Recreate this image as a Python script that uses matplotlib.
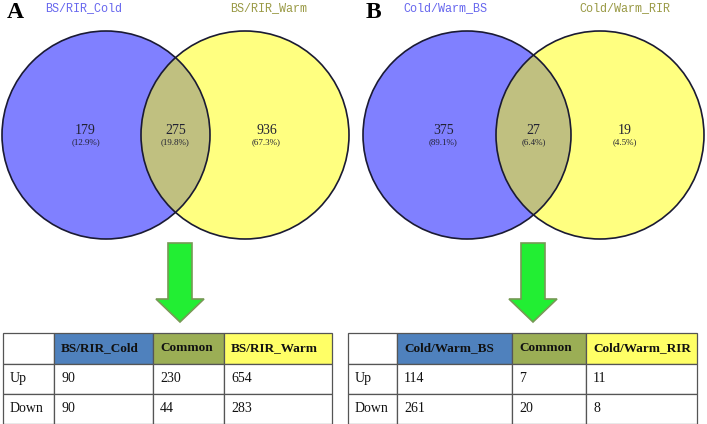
import matplotlib
matplotlib.use("Agg")
import matplotlib.pyplot as plt
from matplotlib.patches import Circle, Rectangle, Polygon

# ---------------- data ----------------
panel_letters = ["A", "B"]
set_names_A = ["BS/RIR_Cold", "BS/RIR_Warm"]
set_names_B = ["Cold/Warm_BS", "Cold/Warm_RIR"]
counts_A = [179, 275, 936]
pcts_A = ["12.9%", "19.8%", "67.3%"]
counts_B = [375, 27, 19]
pcts_B = ["89.1%", "6.4%", "4.5%"]

row_labels = ["Up", "Down"]
common_label = "Common"
up_A = [90, 230, 654]
down_A = [90, 44, 283]
up_B = [114, 7, 11]
down_B = [261, 20, 8]

# ---------------- layout ----------------
W, H = 707, 424
fig = plt.figure(figsize=(W / 100, H / 100), dpi=100)
ax = fig.add_axes([0, 0, 1, 1])
ax.set_xlim(0, W)
ax.set_ylim(H, 0)
ax.axis("off")

BLUE = "#8080ff"
YELLOW = "#ffff80"
OVER = "#c0c080"
EDGE = "#1a1a33"

venn_font = "Liberation Mono"
num_font = "Liberation Serif"


def venn(cx1, cx2, cy, r, names, counts, pcts, letter, letter_x, name_x):
    c1 = Circle((cx1, cy), r, facecolor=BLUE, edgecolor="none", zorder=1)
    c2 = Circle((cx2, cy), r, facecolor=YELLOW, edgecolor="none", zorder=1)
    ax.add_patch(c1)
    ax.add_patch(c2)
    ov = Circle((cx2, cy), r, facecolor=OVER, edgecolor="none", zorder=2)
    ax.add_patch(ov)
    ov.set_clip_path(Circle((cx1, cy), r, transform=ax.transData))
    for cx in (cx1, cx2):
        ax.add_patch(Circle((cx, cy), r, facecolor="none", edgecolor=EDGE,
                            lw=1.2, zorder=3))
    mid = (cx1 + cx2) / 2
    xs = [(cx1 - r + (cx2 - r)) / 2 + 14, mid, (cx1 + r + cx2 + r) / 2 - 13]
    for x, n, p in zip(xs, counts, pcts):
        ax.text(x, cy - 4, str(n), ha="center", va="center", fontsize=10,
                family=num_font, color="#222233", zorder=4)
        ax.text(x, cy + 7, "(" + p + ")", ha="center", va="center",
                fontsize=6.5, family=num_font, color="#222233", zorder=4)
    ax.text(letter_x, 13, letter, ha="left", va="center", fontsize=17,
            family=num_font, weight="bold", color="black")
    ax.text(name_x[0], 8, names[0], ha="left", va="center", fontsize=8.5,
            family=venn_font, color="#6666ee")
    ax.text(name_x[1], 8, names[1], ha="left", va="center", fontsize=8.5,
            family=venn_font, color="#999944")


def arrow(cx):
    sw, hw = 12, 24
    top, base, tip = 243, 299, 322
    pts = [(cx - sw, top), (cx + sw, top), (cx + sw, base), (cx + hw, base),
           (cx, tip), (cx - hw, base), (cx - sw, base)]
    ax.add_patch(Polygon(pts, closed=True, facecolor="#22ee33",
                         edgecolor="#779955", lw=1.2, zorder=2))


def table(xs, names, up, down):
    ys = [333, 363.5, 393.5, 423.5]
    header_colors = ["white", "#4f81bd", "#9bae55", "#ffff66"]
    header = ["", names[0], common_label, names[1]]
    rows = [header,
            [row_labels[0]] + [str(v) for v in up],
            [row_labels[1]] + [str(v) for v in down]]
    for ri in range(3):
        for ci in range(4):
            x0, x1 = xs[ci], xs[ci + 1]
            y0, y1 = ys[ri], ys[ri + 1]
            fc = header_colors[ci] if ri == 0 else "white"
            ax.add_patch(Rectangle((x0, y0), x1 - x0, y1 - y0, facecolor=fc,
                                   edgecolor="#555555", lw=0.9, zorder=2))
            ax.text(x0 + 7, (y0 + y1) / 2, rows[ri][ci], ha="left",
                    va="center", fontsize=9.5 if ri == 0 else 10,
                    family=num_font,
                    weight="bold" if ri == 0 else "normal",
                    color="#111111", zorder=3)


venn(106, 245, 135, 104, set_names_A, counts_A, pcts_A, panel_letters[0], 7,
     (45, 230))
venn(467, 600, 135, 104, set_names_B, counts_B, pcts_B, panel_letters[1], 366,
     (403, 579))
arrow(180)
arrow(533)
table([3, 54, 153, 224, 332], set_names_A, up_A, down_A)
table([348, 397, 512, 586, 697], set_names_B, up_B, down_B)

fig.savefig("out.png", dpi=100)
